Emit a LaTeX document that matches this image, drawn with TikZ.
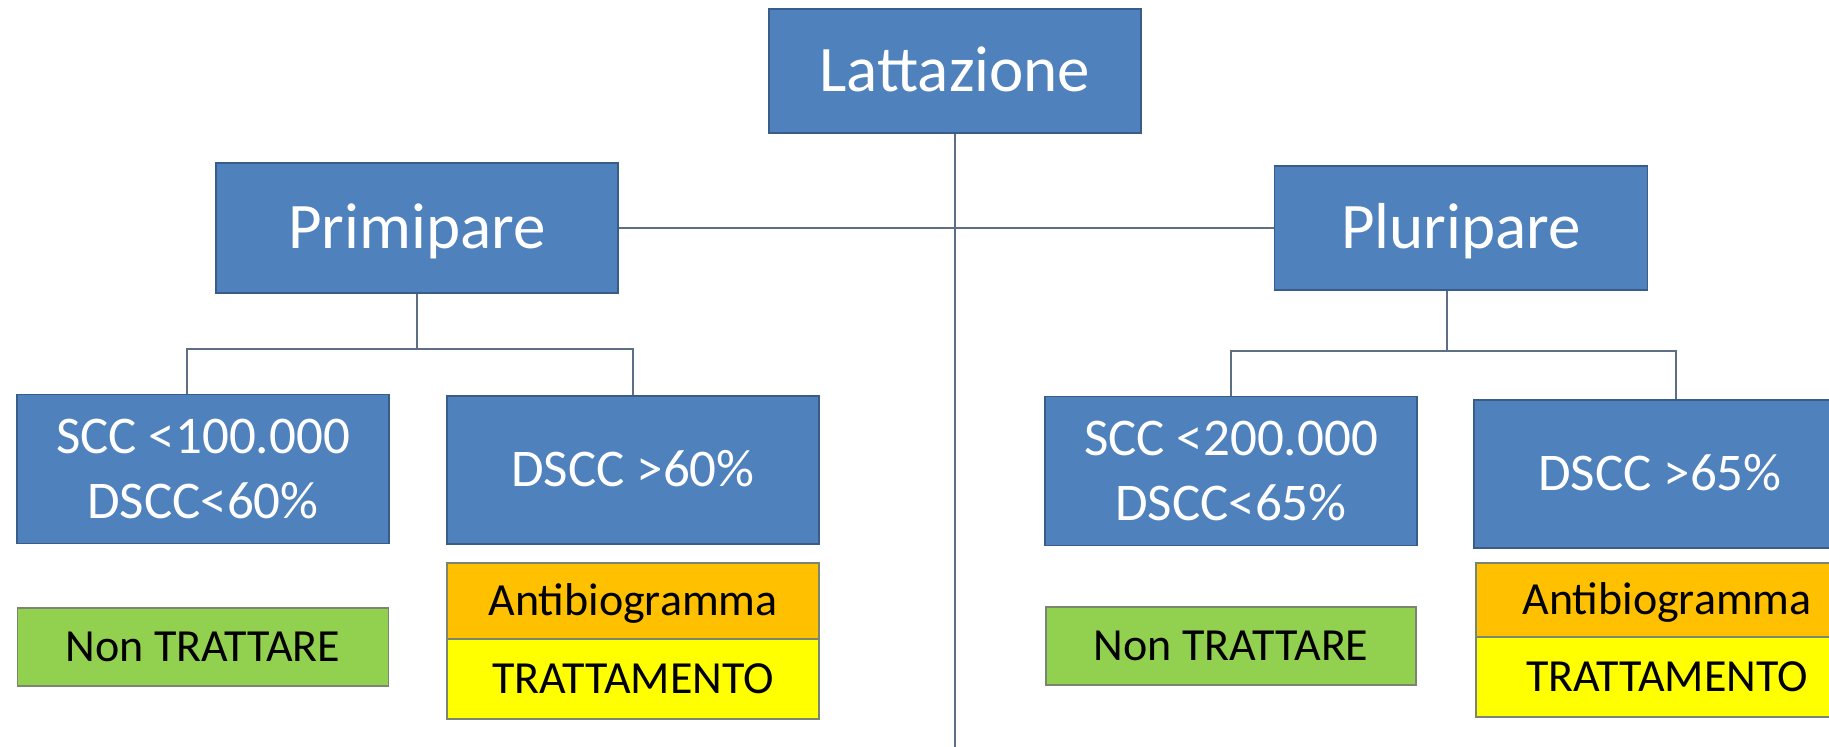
\documentclass[tikz,border=0pt]{standalone}
\usepackage{fontspec}
\setmainfont{Carlito}
\definecolor{boxblue}{HTML}{4F81BD}
\definecolor{boxedge}{HTML}{385D8A}
\definecolor{linecol}{HTML}{5E6E84}
\definecolor{greenfill}{HTML}{92D050}
\definecolor{orangefill}{HTML}{FFC000}
\definecolor{yellowfill}{HTML}{FFFF00}
\definecolor{lightedge}{HTML}{7A8670}
\begin{document}
\begin{tikzpicture}[x=1pt,y=-1pt,
  bluebox/.style={draw=boxedge, line width=1.8pt, fill=boxblue, text=white, inner sep=0pt, align=center},
  big/.style={font=\fontsize{65}{78}\selectfont, text height=41pt, text depth=0pt},
  mid/.style={font=\fontsize{53}{65}\selectfont},
  midone/.style={font=\fontsize{53}{65}\selectfont, text height=33.5pt, text depth=0pt},
  smallbox/.style={font=\fontsize{46}{55}\selectfont, text height=29pt, text depth=0pt, inner sep=0pt, line width=1.5pt, draw=lightedge, text=black},
  conn/.style={draw=linecol, line width=1.8pt}]
\useasboundingbox (0,0) rectangle (1829,747);
\clip (0,0) rectangle (1829,747);
\fill[white] (0,0) rectangle (1829,747);
% top level
\node[bluebox,big,minimum width=372pt,minimum height=124pt] (lat) at (955,71) {Lattazione};
\node[bluebox,big,minimum width=402pt,minimum height=130pt] (pri) at (417,228) {Primipare};
\node[bluebox,big,minimum width=373pt,minimum height=124pt] (plu) at (1461,228) {Pluripare};
% second level
\node[bluebox,mid,minimum width=372pt,minimum height=149pt] (c1) at (203,469) {SCC <100.000\\DSCC<60\%};
\node[bluebox,midone,minimum width=372pt,minimum height=148pt] (c2) at (633,470) {DSCC >60\%};
\node[bluebox,mid,minimum width=372pt,minimum height=149pt] (c3) at (1231,471) {SCC <200.000\\DSCC<65\%};
\node[bluebox,midone,minimum width=372pt,minimum height=148pt] (c4) at (1660,474) {DSCC >65\%};
% outcome boxes
\node[smallbox,fill=greenfill,minimum width=371pt,minimum height=78pt] (n1) at (203,647) {Non TRATTARE};
\node[smallbox,fill=orangefill,minimum width=372pt,minimum height=76pt] (a1) at (633,601) {Antibiogramma};
\node[smallbox,fill=yellowfill,minimum width=372pt,minimum height=80pt] (t1) at (633,679) {TRATTAMENTO};
\node[smallbox,fill=greenfill,minimum width=370pt,minimum height=78pt] (n2) at (1231,646) {Non TRATTARE};
\node[smallbox,fill=orangefill,minimum width=382pt,minimum height=74pt] (a2) at (1667,600) {Antibiogramma};
\node[smallbox,fill=yellowfill,minimum width=382pt,minimum height=80pt] (t2) at (1667,677) {TRATTAMENTO};
% connectors
\coordinate (bot) at (955,747);
\draw[conn] (lat.south) -- (bot);
\draw[conn] (pri.east) -- (plu.west);
\draw[conn] (pri.south) -- ++(0,55) coordinate (j1);
\draw[conn] ([xshift=-16pt]c1.north) |- (j1) -| (c2.north);
\draw[conn] ([xshift=-14pt]plu.south) -- ++(0,60) coordinate (j2);
\draw[conn] (c3.north) |- (j2) -| ([xshift=16pt]c4.north);
\end{tikzpicture}
\end{document}
